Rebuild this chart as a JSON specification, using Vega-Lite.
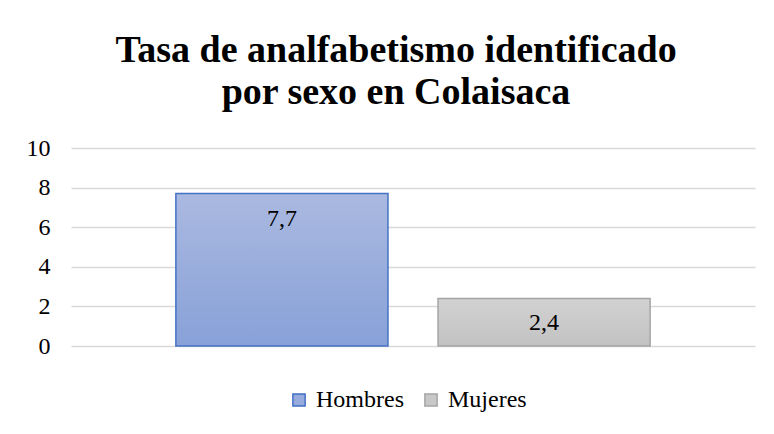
{
  "$schema": "https://vega.github.io/schema/vega-lite/v6.json",
  "width": 684,
  "height": 198,
  "padding": {"left": 26, "top": 32, "right": 19, "bottom": 10},
  "background": "white",
  "title": {
    "text": ["Tasa de analfabetismo identificado", "por sexo en Colaisaca"],
    "font": "Liberation Serif",
    "fontSize": 38,
    "fontWeight": "bold",
    "color": "black",
    "lineHeight": 42,
    "anchor": "middle",
    "dx": -17,
    "offset": 24
  },
  "data": {
    "values": [
      {"sexo": "Hombres", "tasa": 7.7},
      {"sexo": "Mujeres", "tasa": 2.4}
    ]
  },
  "encoding": {
    "x": {
      "field": "sexo",
      "type": "nominal",
      "scale": {"domain": ["Hombres", "Mujeres"], "paddingInner": 0.191, "paddingOuter": 0.4},
      "axis": null
    },
    "y": {
      "field": "tasa",
      "type": "quantitative",
      "scale": {"domain": [0, 10], "nice": false},
      "axis": {
        "values": [0, 2, 4, 6, 8, 10],
        "title": null,
        "domain": false,
        "ticks": false,
        "grid": true,
        "gridColor": "#D9D9D9",
        "gridWidth": 1.3,
        "labelFont": "Liberation Serif",
        "labelFontSize": 24,
        "labelColor": "black",
        "labelPadding": 21,
        "minExtent": 43,
        "maxExtent": 43
      }
    }
  },
  "layer": [
    {
      "mark": {"type": "bar", "strokeWidth": 1.5},
      "encoding": {
        "fill": {
          "condition": [
            {
              "test": "datum.sexo === 'Hombres'",
              "value": {
                "gradient": "linear", "x1": 0, "y1": 0, "x2": 0, "y2": 1,
                "stops": [{"offset": 0, "color": "#AAB9E0"}, {"offset": 1, "color": "#88A1D8"}]
              }
            },
            {
              "test": "datum.sexo === 'Mujeres'",
              "value": {
                "gradient": "linear", "x1": 0, "y1": 0, "x2": 0, "y2": 1,
                "stops": [{"offset": 0, "color": "#D2D2D2"}, {"offset": 1, "color": "#C2C2C2"}]
              }
            }
          ],
          "field": "sexo",
          "type": "nominal",
          "scale": {"domain": ["Hombres", "Mujeres"], "range": ["#97ACDC", "#C8C8C8"]},
          "legend": {
            "title": null,
            "orient": "none",
            "legendX": 216,
            "legendY": 240,
            "direction": "horizontal",
            "symbolType": "square",
            "symbolSize": 150,
            "symbolStrokeWidth": 1.5,
            "labelFont": "Liberation Serif",
            "labelFontSize": 24,
            "labelColor": "black",
            "labelOffset": 5,
            "columnPadding": 15
          }
        },
        "stroke": {
          "field": "sexo",
          "type": "nominal",
          "scale": {"domain": ["Hombres", "Mujeres"], "range": ["#4472C4", "#A5A5A5"]},
          "legend": null
        }
      }
    },
    {
      "mark": {"type": "text", "baseline": "middle", "dy": 25, "font": "Liberation Serif", "fontSize": 24, "color": "black"},
      "encoding": {
        "text": {"field": "tasa", "type": "quantitative", "format": ".1f"}
      }
    }
  ],
  "config": {
    "font": "Liberation Serif",
    "view": {"stroke": null},
    "axis": {"labelFont": "Liberation Serif"},
    "legend": {"labelFont": "Liberation Serif"},
    "locale": {
      "number": {"decimal": ",", "thousands": ".", "grouping": [3], "currency": ["", " €"]}
    }
  }
}
